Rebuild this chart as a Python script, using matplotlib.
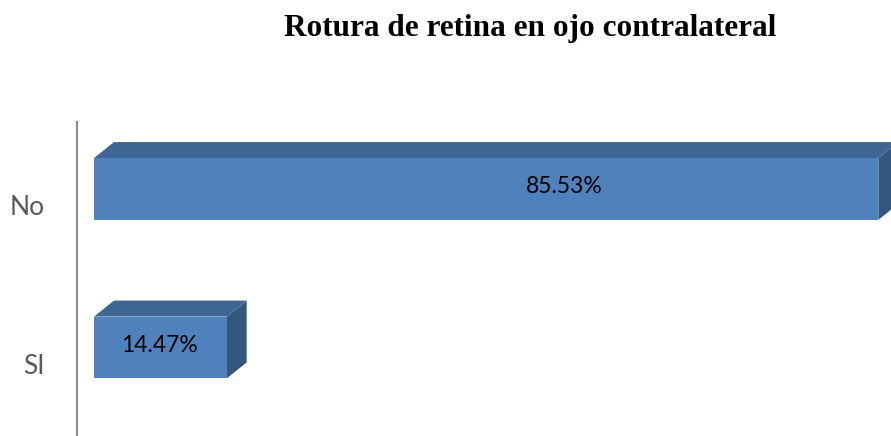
import matplotlib
matplotlib.use("Agg")
import matplotlib.pyplot as plt
from matplotlib.patches import Polygon
from matplotlib.transforms import ScaledTranslation

# data
categories = ["SI", "No"]
percentages = [14.47, 85.53]
value_labels = ["14.47%", "85.53%"]
title = "Rotura de retina en ojo contralateral"

# style / layout
FRONT = "#4F81BD"
TOP = "#3F6594"
SIDE = "#34577F"
BAR_H = 0.39
DEPTH_PX = (20, 16)
LABEL_FRAC = [0.49, 0.60]  # where the value text sits along each bar

W, H, DPI = 891, 436, 100
fig = plt.figure(figsize=(W / DPI, H / DPI), dpi=DPI)

ax_left, ax_top = 77, 122
ax = fig.add_axes([ax_left / W, 0.0, 1 - ax_left / W, (H - ax_top) / H])
x_per_px = 1 / 9.17
y_per_px = 1 / 158.5
ax.set_xlim(-17 * x_per_px, -17 * x_per_px + (W - ax_left) * x_per_px)
ax.set_ylim(-88.5 * y_per_px, -88.5 * y_per_px + (H - ax_top) * y_per_px)

ypos = list(range(len(categories)))
ax.barh(ypos, percentages, height=BAR_H, color=FRONT, zorder=3)

# fake 3D: top and side faces of each bar
dx = DEPTH_PX[0] * x_per_px
dy = DEPTH_PX[1] * y_per_px
for y, v in zip(ypos, percentages):
    top = y + BAR_H / 2
    bot = y - BAR_H / 2
    ax.add_patch(Polygon([(0, top), (v, top), (v + dx, top + dy), (dx, top + dy)],
                         closed=True, color=TOP, zorder=2, clip_on=False, lw=0))
    ax.add_patch(Polygon([(v, bot), (v + dx, bot + dy), (v + dx, top + dy), (v, top)],
                         closed=True, color=SIDE, zorder=2, clip_on=False, lw=0))

for y, v, lab, f in zip(ypos, percentages, value_labels, LABEL_FRAC):
    ax.text(v * f, y + 0.015, lab, ha="center", va="center", fontsize=16.5,
            family="Lato", color="black", zorder=4)

ax.set_yticks(ypos)
ax.set_yticklabels(categories, fontsize=19, family="Lato", color="#595959")
ax.tick_params(axis="y", length=0, pad=23)
shift = ScaledTranslation(0, -16 / DPI, fig.dpi_scale_trans)
for lab in ax.get_yticklabels():
    lab.set_transform(lab.get_transform() + shift)
ax.set_xticks([])

for s in ["top", "right", "bottom"]:
    ax.spines[s].set_visible(False)
ax.spines["left"].set_color("#8C8C8C")
ax.spines["left"].set_linewidth(1.5)

fig.text(530 / W, 1 - 36 / H, title, ha="center", va="baseline",
         fontsize=22.5, fontweight="bold", family="Liberation Serif")

fig.savefig("out.png", dpi=DPI)
